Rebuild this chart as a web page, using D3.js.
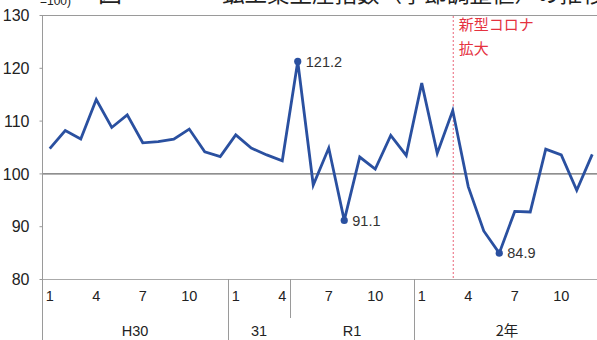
<!DOCTYPE html>
<html><head><meta charset="utf-8">
<script src="https://cdn.jsdelivr.net/npm/d3@7"></script>
<style>
body{margin:0;background:#fff;}
svg{display:block;font-family:"Liberation Sans",Arial,sans-serif;}
</style></head>
<body><svg id="c" width="597" height="340"></svg>
<script>
const months = ["1","2","3","4","5","6","7","8","9","10","11","12",
                "1","2","3","4","5","6","7","8","9","10","11","12",
                "1","2","3","4","5","6","7","8","9","10","11","12"];
const values = [104.7,108.1,106.5,114.0,108.7,111.1,105.8,106.0,106.5,108.4,104.1,103.2,
                107.3,104.8,103.5,102.4,121.2,97.8,104.8,91.1,103.1,100.8,107.2,103.4,
                117.1,103.8,111.9,97.5,89.1,84.9,92.8,92.7,104.6,103.5,96.8,103.6];
const tickMonths = ["1","4","7","10"];
const yTicks = [80,90,100,110,120,130];
const groups = [{label:"H30",start:0,end:12},{label:"31",start:12,end:16},{label:"R1",start:16,end:24},{label:"2年",start:24,end:36}];
const separators = [12,24];
const eraSeparator = 16;
const highlights = [16,19,29];
const coronaIndex = 26;
const coronaText = ["新型コロナ","拡大"];
const titleText = "鉱工業生産指数（季節調整値）の推移";

const svg = d3.select("#c");
const L = 42, R = 600, T = 15, B = 279;
const idx = d3.range(values.length);
const x = d3.scaleBand().domain(idx).range([L, R]).padding(0);
const y = d3.scaleLinear().domain([80,130]).range([B, T]);
const cx = i => x(i) + x.bandwidth()/2;

// clipped title (cut off at the top edge, as in the reference)
svg.append("text").attr("x",40).attr("y",5).attr("font-size",12).attr("fill","#222").text("=100)");
svg.append("text").attr("x",98).attr("y",2).attr("font-size",24).attr("fill","#222")
  .attr("font-family","Noto Sans CJK JP").text("図");
svg.append("text").attr("x",222).attr("y",2).attr("font-size",22.5).attr("fill","#222")
  .attr("font-family","Noto Sans CJK JP").text(titleText);

// frame
svg.append("line").attr("x1",L).attr("x2",597).attr("y1",T+0.5).attr("y2",T+0.5).attr("stroke","#9a9a9a");
svg.append("line").attr("x1",L).attr("x2",597).attr("y1",B+0.5).attr("y2",B+0.5).attr("stroke","#aaa").attr("stroke-width",1.2);
svg.append("line").attr("x1",L).attr("x2",597).attr("y1",y(100)+0.5).attr("y2",y(100)+0.5).attr("stroke","#6a6a6a").attr("stroke-width",1.2);

// y axis
const ya = d3.axisLeft(y).tickValues(yTicks).tickSize(3).tickPadding(10).tickFormat(d3.format("d"));
const yg = svg.append("g").attr("transform",`translate(${L+0.5},0)`).call(ya);
yg.select(".domain").remove();
yg.selectAll(".tick line").attr("stroke","#999");
yg.selectAll(".tick text").attr("font-size",16).attr("fill","#222").attr("font-family","Liberation Sans, Arial").attr("dy","0.35em");
svg.append("line").attr("x1",L+0.5).attr("x2",L+0.5).attr("y1",T).attr("y2",340).attr("stroke","#9a9a9a");

// x axis labels
const xa = d3.axisBottom(x).tickValues(idx.filter(i => tickMonths.includes(months[i]) && i%3===0)).tickSize(0).tickPadding(12)
  .tickFormat(i => months[i]);
const xg = svg.append("g").attr("transform",`translate(0,${B})`).call(xa);
xg.select(".domain").remove();
xg.selectAll(".tick text").attr("font-size",14.5).attr("fill","#222").attr("font-family","Liberation Sans, Arial");

// separators
separators.forEach(s => svg.append("line").attr("x1",Math.round(x(s))+0.5).attr("x2",Math.round(x(s))+0.5)
  .attr("y1",B).attr("y2",340).attr("stroke","#9a9a9a"));
svg.append("line").attr("x1",Math.round(x(eraSeparator))+0.5).attr("x2",Math.round(x(eraSeparator))+0.5)
  .attr("y1",B).attr("y2",318).attr("stroke","#9a9a9a");

groups.forEach(g => {
  const gx = (x(g.start) + (g.end < values.length ? x(g.end) : R)) / 2;
  svg.append("text").attr("x",gx).attr("y",336).attr("text-anchor","middle")
    .attr("font-size",14.5).attr("fill","#222")
    .attr("font-family", g.label.includes("年") ? "Noto Sans CJK JP" : "Liberation Sans, Arial").text(g.label);
});

// corona line
svg.append("line").attr("x1",cx(coronaIndex)+0.5).attr("x2",cx(coronaIndex)+0.5).attr("y1",T+1).attr("y2",B)
  .attr("stroke","#e8546a").attr("stroke-width",0.9).attr("stroke-dasharray","2,2");
coronaText.forEach((t,k) => svg.append("text").attr("x",cx(coronaIndex)+6).attr("y",30+k*24)
  .attr("font-size",15).attr("fill","#e5323f").attr("font-family","Noto Sans CJK JP").text(t));

// line
const line = d3.line().x((d,i)=>cx(i)).y(d=>y(d));
svg.append("path").datum(values).attr("d",line).attr("fill","none").attr("stroke","#2a50a0")
  .attr("stroke-width",2.8).attr("stroke-linejoin","miter");

highlights.forEach(i => {
  svg.append("circle").attr("cx",cx(i)).attr("cy",y(values[i])).attr("r",3.6).attr("fill","#2a50a0");
  svg.append("text").attr("x",cx(i)+8).attr("y",y(values[i])).attr("dy","0.36em")
    .attr("font-size",14.5).attr("fill","#333").attr("font-family","Liberation Sans, Arial")
    .text(values[i].toFixed(1));
});
</script></body></html>
